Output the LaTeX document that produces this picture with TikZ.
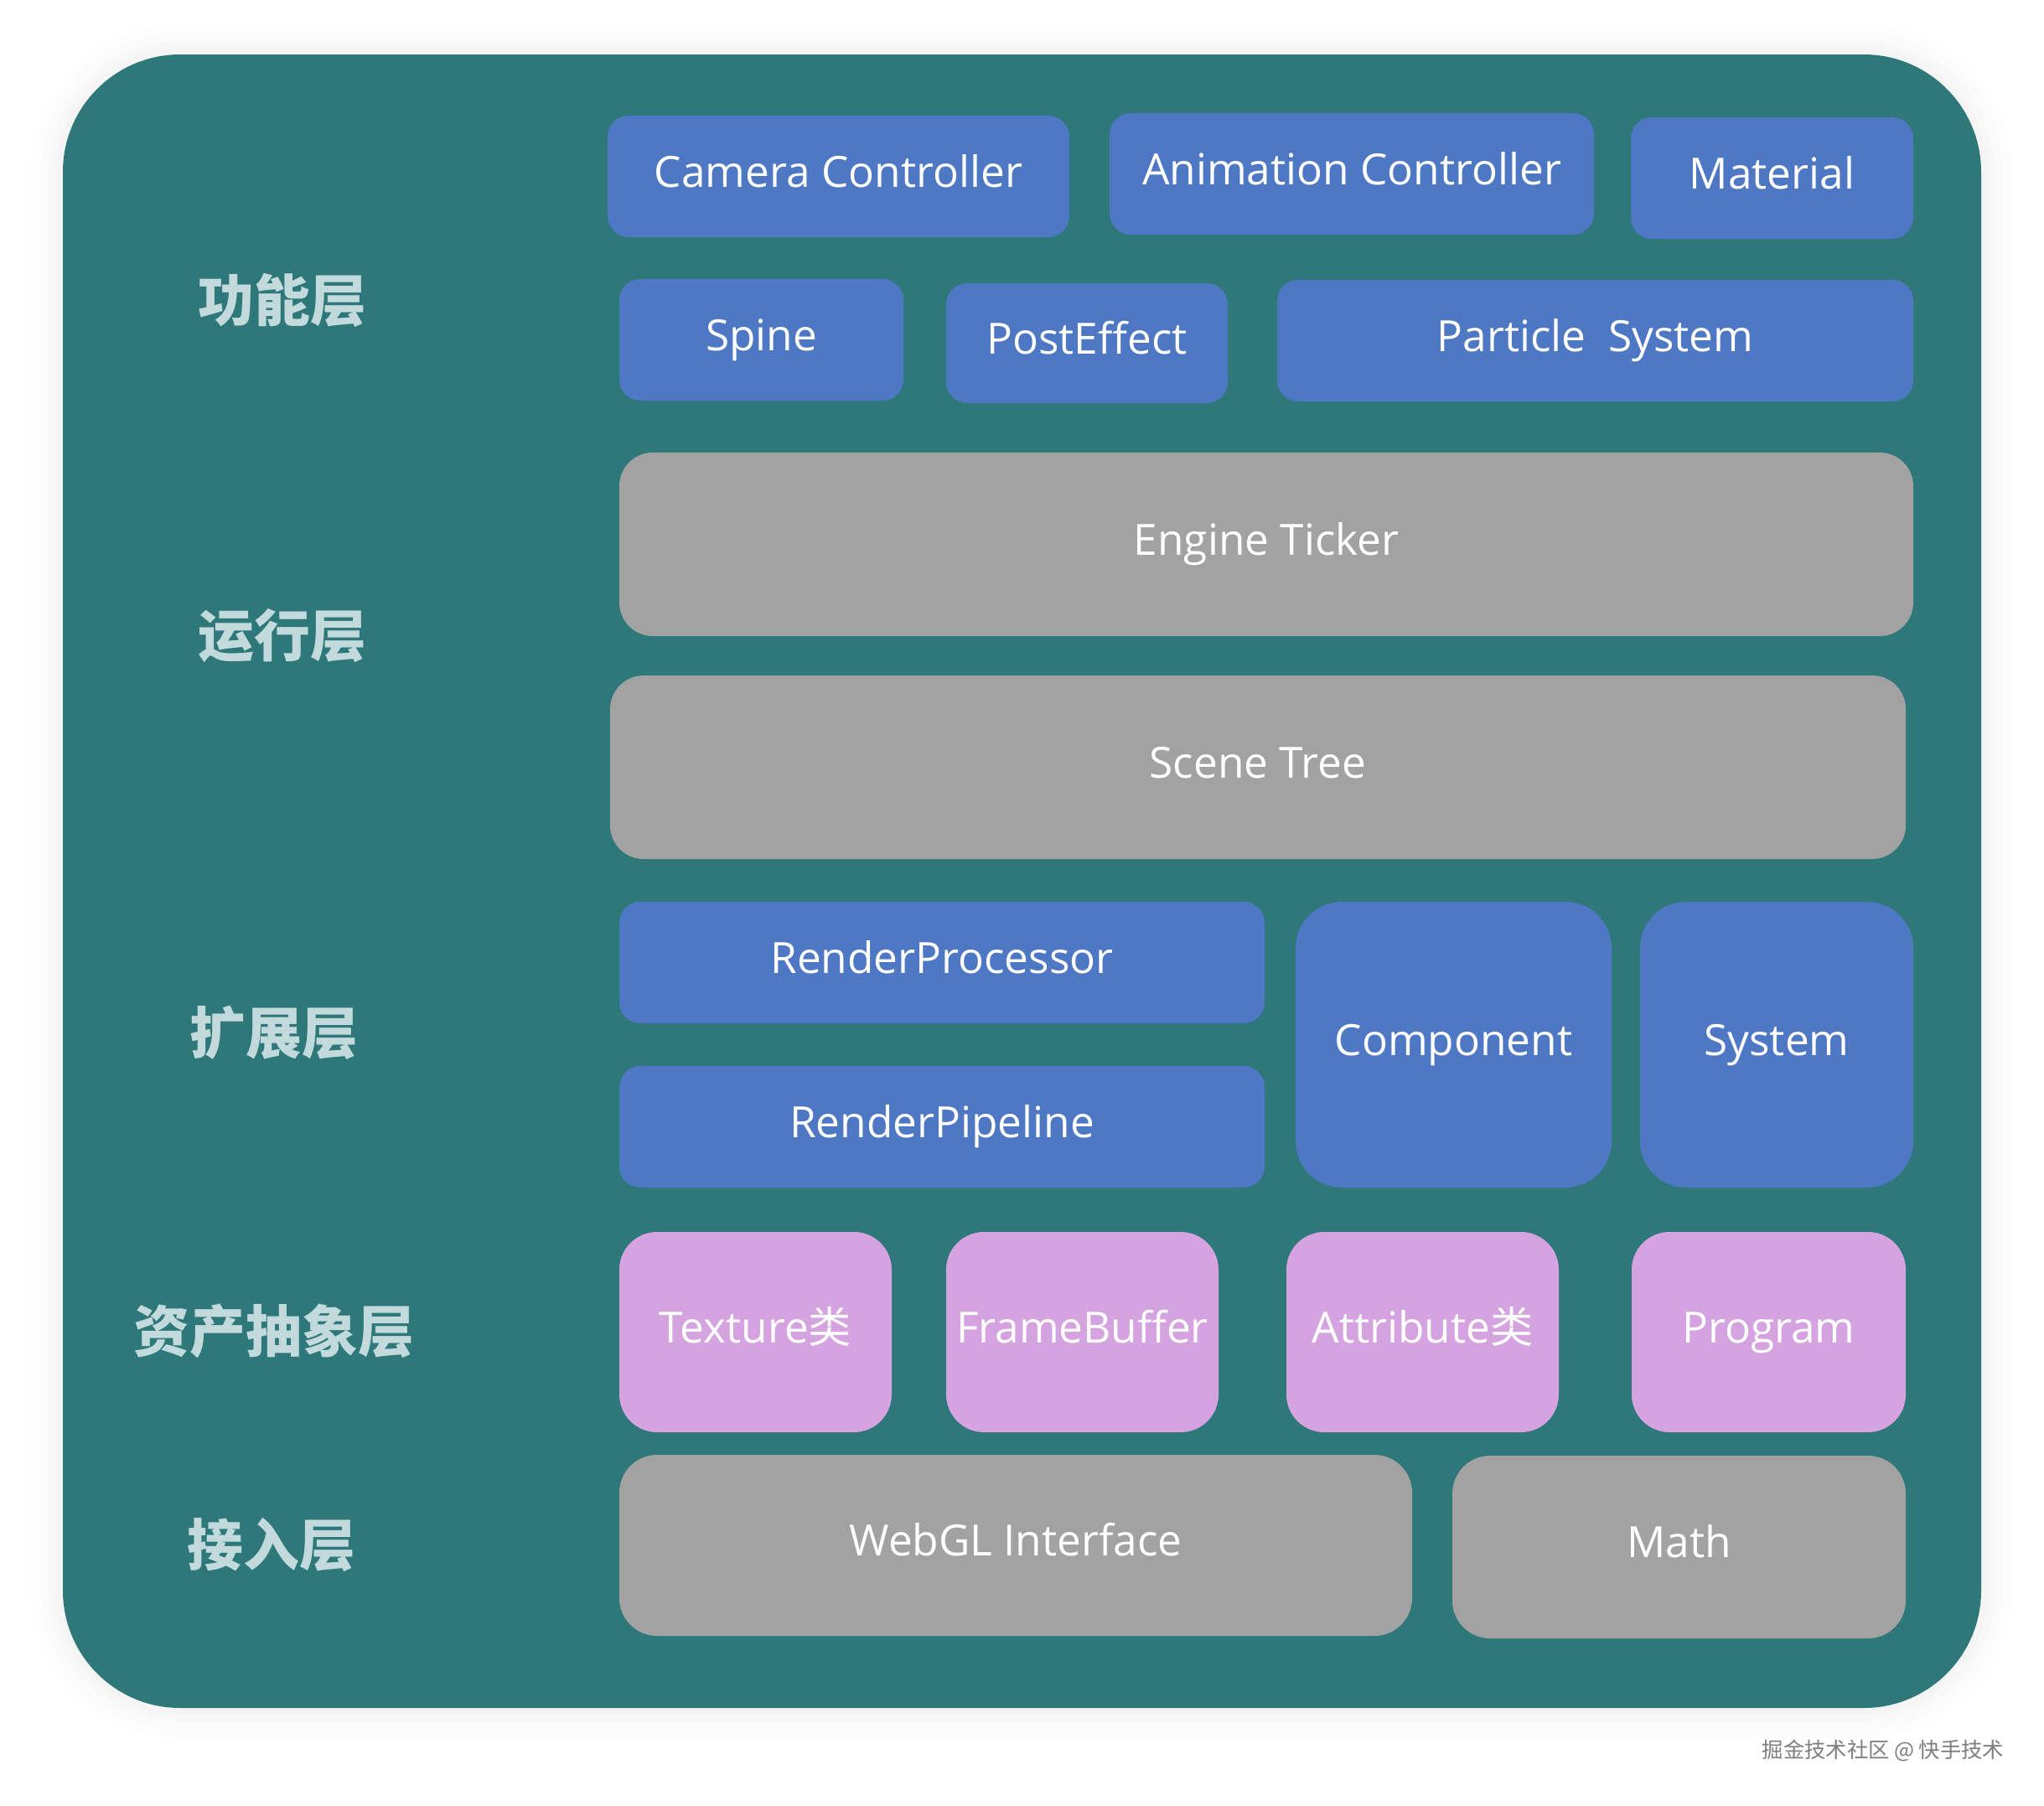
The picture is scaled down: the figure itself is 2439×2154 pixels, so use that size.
\documentclass[tikz,border=0pt]{standalone}
\usepackage{fontspec}
\setmainfont{Open Sans}
\newfontfamily\cjk{Noto Sans CJK SC}
\definecolor{teal0}{HTML}{2E7879}
\definecolor{cblue}{HTML}{4E77C4}
\definecolor{cgray}{HTML}{A2A2A2}
\definecolor{cpink}{HTML}{D4A3E0}
\definecolor{clabel}{HTML}{C3DADD}
\definecolor{cmark}{HTML}{7E7E7E}
\newcommand\blk[7]{\node[#6, minimum width={(#4-#2)*0.01cm}, minimum height={(#5-#3)*0.01cm}] (#1) at ({(#2+#4)/2},{(#3+#5)/2}) {#7};}
\begin{document}
\begin{tikzpicture}[x=0.01cm,y=-0.01cm,
  base/.style={rectangle, inner sep=0pt, text=white, font=\fontsize{14.6}{17}\selectfont, text height=0.72em, text depth=0pt},
  bluebox/.style={base, fill=cblue, rounded corners=0.25cm},
  bigblue/.style={base, fill=cblue, rounded corners=0.55cm},
  graybox/.style={base, fill=cgray, rounded corners=0.4cm},
  grayboxb/.style={base, fill=cgray, rounded corners=0.45cm},
  pinkbox/.style={base, fill=cpink, rounded corners=0.45cm},
  layerlabel/.style={text=clabel, font=\cjk\bfseries\fontsize{19}{22}\selectfont, inner sep=0pt}]
\useasboundingbox (0,0) rectangle (2439,2154);
\fill[white] (0,0) rectangle (2439,2154);
% soft halo
\foreach \d/\o in {36/0.006,26/0.008,16/0.01,8/0.012}{
  \fill[black, opacity=\o, rounded corners={(140+\d)*0.01cm}] ({75-\d},{65-\d}) rectangle ({2364+\d},{2038+\d});
}
\fill[teal0, rounded corners=1.4cm] (75,65) rectangle (2364,2038);
% layer labels
\node[layerlabel] (l1) at (337,358) {功能层};
\node[layerlabel] (l2) at (337,759) {运行层};
\node[layerlabel] (l3) at (327,1232) {扩展层};
\node[layerlabel] (l4) at (327,1588) {资产抽象层};
\node[layerlabel] (l5) at (324,1843) {接入层};
% function layer
\blk{cam}{725}{138}{1276}{283}{bluebox}{Camera Controller}
\blk{anim}{1324}{135}{1902}{280}{bluebox}{Animation Controller}
\blk{mat}{1946}{140}{2283}{285}{bluebox}{Material}
\blk{spine}{739}{333}{1078}{478}{bluebox}{Spine}
\blk{post}{1129}{338}{1465}{481}{bluebox}{PostEffect}
\blk{part}{1524}{334}{2283}{479}{bluebox}{Particle\ \ System}
% runtime layer
\blk{tick}{739}{540}{2283}{759}{graybox}{Engine Ticker}
\blk{scene}{728}{806}{2274}{1025}{graybox}{Scene Tree}
% extension layer
\blk{rproc}{739}{1076}{1509}{1221}{bluebox}{RenderProcessor}
\blk{rpipe}{739}{1272}{1509}{1417}{bluebox}{RenderPipeline}
\blk{comp}{1546}{1076}{1923}{1417}{bigblue}{Component}
\blk{sys}{1957}{1076}{2283}{1417}{bigblue}{System}
% asset abstraction layer
\blk{tex}{739}{1470}{1064}{1709}{pinkbox}{Texture{\cjk 类}}
\blk{fb}{1129}{1470}{1454}{1709}{pinkbox}{FrameBuffer}
\blk{attr}{1535}{1470}{1860}{1709}{pinkbox}{Attribute{\cjk 类}}
\blk{prog}{1947}{1470}{2274}{1709}{pinkbox}{Program}
% access layer
\blk{webgl}{739}{1736}{1685}{1952}{grayboxb}{WebGL Interface}
\blk{math}{1733}{1737}{2274}{1955}{grayboxb}{Math}
% watermark
\node[text=cmark, font=\cjk\fontsize{7.2}{9}\selectfont, inner sep=0pt] (wm) at (2247,2089) {掘金技术社区 @ 快手技术};
\end{tikzpicture}
\end{document}
